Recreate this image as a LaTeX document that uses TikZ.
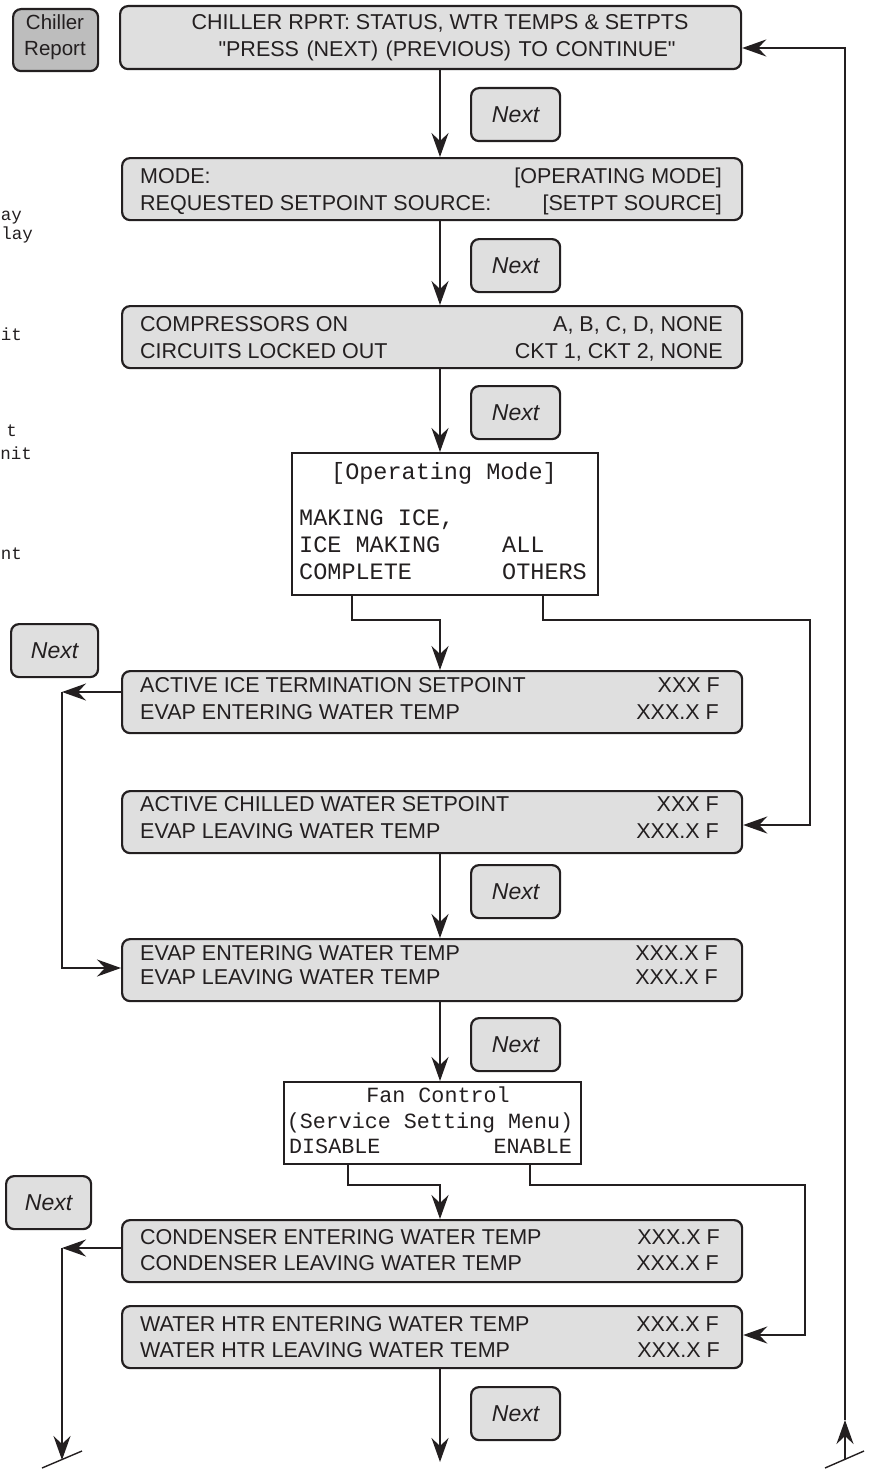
\documentclass[tikz,border=0pt]{standalone}
\usepackage{fontspec}
\setmainfont{Liberation Sans}
\newfontfamily\plainsans{Liberation Sans}
\setmonofont{Liberation Mono}
\usetikzlibrary{arrows.meta,calc}
\definecolor{ln}{HTML}{231F20}
\definecolor{boxfill}{HTML}{DFDFDF}
\definecolor{btnfill}{HTML}{BDBDBD}
\begin{document}
\begin{tikzpicture}[x=1pt,y=-1pt,
  scr/.style={draw=ln, line width=2.2pt, fill=boxfill, rounded corners=8pt, minimum width=620pt, minimum height=62pt, inner sep=0pt, anchor=north west},
  menubox/.style={draw=ln, line width=2.2pt, fill=white, inner sep=0pt, anchor=north west},
  nextbtn/.style={draw=ln, line width=2.2pt, fill=boxfill, rounded corners=8pt, minimum width=89pt, minimum height=53pt, inner sep=0pt, anchor=north west, font=\plainsans\fontsize{23}{23}\selectfont\itshape, text=ln},
  txt/.style={inner sep=0pt, font=\plainsans\fontsize{21.5}{21.5}\selectfont, text=ln, text height=15.4pt, text depth=0pt},
  crtxt/.style={inner sep=0pt, font=\plainsans\fontsize{20.5}{20.5}\selectfont, text=ln, text height=14.7pt, text depth=0pt},
  mono/.style={inner sep=0pt, font=\ttfamily\fontsize{23.5}{23.5}\selectfont, text=ln, text height=13pt, text depth=0pt},
  monos/.style={inner sep=0pt, font=\ttfamily\fontsize{21.7}{21.7}\selectfont, text=ln, text height=12pt, text depth=0pt},
  frag/.style={inner sep=0pt, font=\ttfamily\fontsize{17.5}{17.5}\selectfont, text=ln, text height=8pt, text depth=0pt, anchor=east},
  arr/.style={draw=ln, line width=2pt, -{Stealth[length=24pt,width=17pt,inset=8pt]}},
  slash/.style={draw=ln, line width=1.4pt}
]
\useasboundingbox (0,0) rectangle (872,1469);
\clip (0,0) rectangle (872,1469);

% left cut-off fragments
\node[frag] (f1) at (22,216) {ay};
\node[frag] (f2) at (33,235) {lay};
\node[frag] (f3) at (22,336) {it};
\node[frag] (f4) at (17,432) {t};
\node[frag] (f5) at (32,455) {nit};
\node[frag] (f6) at (22,555) {nt};

% Chiller Report button
\node[nextbtn, fill=btnfill, minimum width=85pt, minimum height=62pt] (cr) at (12,8) {};
\node[crtxt] (cra) at (55,22) {Chiller};
\node[crtxt] (crb) at (55,48) {Report};

% Box 1
\node[scr, minimum width=621pt, minimum height=63pt] (b1) at (119,5) {};
\node[txt] (b1a) at (440,22) {CHILLER RPRT: STATUS, WTR TEMPS \& SETPTS};
\node[txt] (b1b) at (447,49) {\spaceskip=7.5pt "PRESS (NEXT) (PREVIOUS) TO CONTINUE"};

% Box 2
\node[scr] (b2) at (121,157) {};
\node[txt, anchor=west] (b2a) at (140,176) {MODE:};
\node[txt, anchor=east] (b2b) at (722,176) {[OPERATING MODE]};
\node[txt, anchor=west] (b2c) at (140,203) {REQUESTED SETPOINT SOURCE:};
\node[txt, anchor=east] (b2d) at (722,203) {[SETPT SOURCE]};

% Box 3
\node[scr] (b3) at (121,305) {};
\node[txt, anchor=west] (b3a) at (140,324) {COMPRESSORS ON};
\node[txt, anchor=east] (b3b) at (723,324) {A, B, C, D, NONE};
\node[txt, anchor=west] (b3c) at (140,351) {CIRCUITS LOCKED OUT};
\node[txt, anchor=east] (b3d) at (723,351) {CKT 1, CKT 2, NONE};

% Operating mode box
\node[menubox, minimum width=306pt, minimum height=142pt] (op) at (291,452) {};
\node[mono] (opa) at (444,473) {[Operating Mode]};
\node[mono, anchor=west] (opb) at (299,519) {MAKING ICE,};
\node[mono, anchor=west] (opc) at (299,546) {ICE MAKING};
\node[mono, anchor=west] (opd) at (299,573) {COMPLETE};
\node[mono, anchor=west] (ope) at (502,546) {ALL};
\node[mono, anchor=west] (opf) at (502,573) {OTHERS};

% Box 4
\node[scr] (b4) at (121,670) {};
\node[txt, anchor=west] (b4a) at (140,685) {ACTIVE ICE TERMINATION SETPOINT};
\node[txt, anchor=east] (b4b) at (720,685) {XXX F};
\node[txt, anchor=west] (b4c) at (140,712) {EVAP ENTERING WATER TEMP};
\node[txt, anchor=east] (b4d) at (719,712) {XXX.X F};

% Box 5
\node[scr] (b5) at (121,790) {};
\node[txt, anchor=west] (b5a) at (140,804) {ACTIVE CHILLED WATER SETPOINT};
\node[txt, anchor=east] (b5b) at (719,804) {XXX F};
\node[txt, anchor=west] (b5c) at (140,831) {EVAP LEAVING WATER TEMP};
\node[txt, anchor=east] (b5d) at (719,831) {XXX.X F};

% Box 6
\node[scr] (b6) at (121,938) {};
\node[txt, anchor=west] (b6a) at (140,953) {EVAP ENTERING WATER TEMP};
\node[txt, anchor=east] (b6b) at (718,953) {XXX.X F};
\node[txt, anchor=west] (b6c) at (140,977) {EVAP LEAVING WATER TEMP};
\node[txt, anchor=east] (b6d) at (718,977) {XXX.X F};

% Fan control box
\node[menubox, minimum width=297pt, minimum height=82pt] (fan) at (283,1081) {};
\node[monos] (fana) at (438,1096) {Fan Control};
\node[monos] (fanb) at (430,1122) {(Service Setting Menu)};
\node[monos, anchor=west] (fanc) at (289,1147) {DISABLE};
\node[monos, anchor=east] (fand) at (572,1147) {ENABLE};

% Box 7
\node[scr] (b7) at (121,1219) {};
\node[txt, anchor=west] (b7a) at (140,1237) {CONDENSER ENTERING WATER TEMP};
\node[txt, anchor=east] (b7b) at (720,1237) {XXX.X F};
\node[txt, anchor=west] (b7c) at (140,1263) {CONDENSER LEAVING WATER TEMP};
\node[txt, anchor=east] (b7d) at (719,1263) {XXX.X F};

% Box 8
\node[scr] (b8) at (121,1305) {};
\node[txt, anchor=west] (b8a) at (140,1324) {WATER HTR ENTERING WATER TEMP};
\node[txt, anchor=east] (b8b) at (719,1324) {XXX.X F};
\node[txt, anchor=west] (b8c) at (140,1350) {WATER HTR LEAVING WATER TEMP};
\node[txt, anchor=east] (b8d) at (720,1350) {XXX.X F};

% Next buttons
\node[nextbtn] (n1) at (470,87) {Next};
\node[nextbtn] (n2) at (470,238) {Next};
\node[nextbtn] (n3) at (470,385) {Next};
\node[nextbtn, minimum width=87pt] (nl1) at (10,623) {Next};
\node[nextbtn] (n4) at (470,864) {Next};
\node[nextbtn] (n5) at (470,1017) {Next};
\node[nextbtn, minimum width=85pt] (nl2) at (5,1175) {Next};
\node[nextbtn] (n6) at (470,1386) {Next};

% coordinates
\coordinate (ax) at (440,0);
\coordinate (opL) at (352,620);
\coordinate (opR) at (543,620);
\coordinate (rx1) at (810,825);
\coordinate (lx1) at (62,692);
\coordinate (ly1) at (62,968);
\coordinate (fL) at (348,1185);
\coordinate (fR) at (530,1185);
\coordinate (rx2) at (805,1335);
\coordinate (lx2) at (62,1248);
\coordinate (lb) at (62,1460);
\coordinate (cb) at (440,1462);
\coordinate (rb) at (845,1460);
\coordinate (rm) at (845,1420);
\coordinate (rt) at (845,48);
\coordinate (sl1) at (42,1468);
\coordinate (sl2) at (82,1451);
\coordinate (sr1) at (825,1468);
\coordinate (sr2) at (864,1451);

% connectors
\draw[arr] (b1.south -| ax) -- (b2.north -| ax);
\draw[arr] (b2.south -| ax) -- (b3.north -| ax);
\draw[arr] (b3.south -| ax) -- (op.north -| ax);
\draw[arr] (op.south -| opL) -- (opL) -- (opL -| ax) -- (b4.north -| ax);
\draw[arr] (op.south -| opR) -- (opR) -- (opR -| rx1) -- (rx1) -- (b5.east |- rx1);
\draw[arr] (b4.west |- lx1) -- (lx1);
\draw[arr] (lx1) -- (ly1) -- (b6.west |- ly1);
\draw[arr] (b5.south -| ax) -- (b6.north -| ax);
\draw[arr] (b6.south -| ax) -- (fan.north -| ax);
\draw[arr] (fan.south -| fL) -- (fL) -- (fL -| ax) -- (b7.north -| ax);
\draw[arr] (fan.south -| fR) -- (fR) -- (fR -| rx2) -- (rx2) -- (b8.east |- rx2);
\draw[arr] (b7.west |- lx2) -- (lx2);
\draw[arr] (lx2) -- (lb);
\draw[arr] (b8.south -| ax) -- (cb);
\draw[arr] (rb) -- (rm);
\draw[arr] (rm) -- (rt) -- (b1.east |- rt);
\draw[slash] (sl1) -- (sl2);
\draw[slash] (sr1) -- (sr2);
\end{tikzpicture}
\end{document}
